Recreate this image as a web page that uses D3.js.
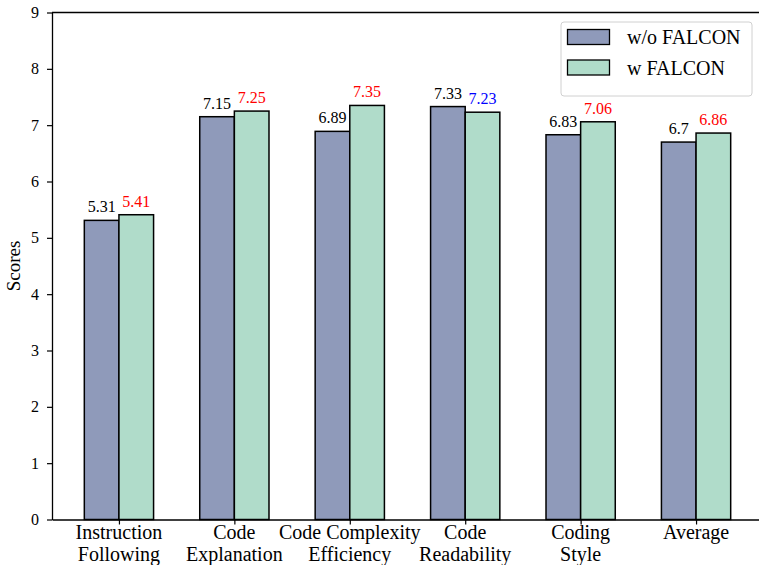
<!DOCTYPE html>
<html>
<head>
<meta charset="utf-8">
<script src="https://cdn.jsdelivr.net/npm/d3@7"></script>
<style>
  body { margin: 0; background: #fff; }
  svg { display: block; }
  svg text { font-family: "Liberation Serif", "Times New Roman", serif !important; }
</style>
</head>
<body>
<svg id="chart"></svg>
<script>
// data
const categories = ['Instruction\nFollowing', 'Code\nExplanation', 'Code Complexity\nEfficiency', 'Code\nReadability', 'Coding\nStyle', 'Average'];
const withoutFalcon = [5.31, 7.15, 6.89, 7.33, 6.83, 6.7];
const withFalcon = [5.41, 7.25, 7.35, 7.23, 7.06, 6.86];
const yTicks = [0, 1, 2, 3, 4, 5, 6, 7, 8, 9];
const seriesNames = ['w/o FALCON', 'w FALCON'];

const W = 759, H = 565;
const colors = ['#8f9aba', '#b0dcca'];
const barW = 0.3;

const svg = d3.select('#chart').attr('width', W).attr('height', H);

// x axis runs a bit past the right edge, like the original figure
const x = d3.scaleLinear().domain([-0.58, categories.length - 1 + 0.58]).range([52, 763]);
const y = d3.scaleLinear().domain([0, 9]).range([519.5, 12.5]);

// bars
const series = [withoutFalcon, withFalcon];
series.forEach((vals, s) => {
    svg.append('g').selectAll('rect')
        .data(vals)
        .join('rect')
        .attr('x', (d, i) => x(i + (s === 0 ? -barW : 0)))
        .attr('y', d => y(d))
        .attr('width', x(barW) - x(0))
        .attr('height', d => y(0) - y(d))
        .attr('fill', colors[s])
        .attr('stroke', '#000')
        .attr('stroke-width', 1.5);
});

// value labels
svg.append('g').selectAll('text')
    .data(withoutFalcon)
    .join('text')
    .attr('x', (d, i) => x(i - barW / 2))
    .attr('y', d => y(d) - 8)
    .attr('text-anchor', 'middle')
    .attr('font-size', 16)
    .attr('fill', '#000')
    .text(d => d);

svg.append('g').selectAll('text')
    .data(withFalcon)
    .join('text')
    .attr('x', (d, i) => x(i + barW / 2))
    .attr('y', d => y(d) - 8)
    .attr('text-anchor', 'middle')
    .attr('font-size', 16)
    .attr('fill', (d, i) => d >= withoutFalcon[i] ? '#ff0000' : '#0000ff')
    .text(d => d);

// axes
const xAxisG = svg.append('g')
    .attr('transform', `translate(0,${y(0)})`)
    .call(d3.axisBottom(x).tickValues(d3.range(categories.length)).tickFormat('').tickSize(5).tickSizeOuter(0));
xAxisG.select('.domain').attr('stroke', '#000').attr('stroke-width', 1.3);
xAxisG.selectAll('.tick line').attr('stroke', '#000').attr('stroke-width', 1.2);

const xLabels = svg.append('g').selectAll('text')
    .data(categories)
    .join('text')
    .attr('text-anchor', 'middle')
    .attr('font-size', 20)
    .attr('fill', '#000');
xLabels.each(function (d, i) {
    d.split('\n').forEach((line, k) => {
        d3.select(this).append('tspan')
            .attr('x', x(i))
            .attr('y', 539 + k * 22)
            .text(line);
    });
});

const yAxisG = svg.append('g')
    .attr('transform', `translate(${x.range()[0]},0)`)
    .call(d3.axisLeft(y).tickValues(yTicks).tickSize(5).tickSizeOuter(0).tickPadding(8));
yAxisG.select('.domain').attr('stroke', '#000').attr('stroke-width', 1.3);
yAxisG.selectAll('.tick line').attr('stroke', '#000').attr('stroke-width', 1.2);
yAxisG.selectAll('.tick text')
    .attr('font-size', 16)
    .attr('fill', '#000');

// top spine
svg.append('line')
    .attr('x1', x.range()[0]).attr('x2', x.range()[1])
    .attr('y1', y(9)).attr('y2', y(9))
    .attr('stroke', '#000').attr('stroke-width', 1.3);

// y label
svg.append('text')
    .attr('transform', `translate(20,${(y(0) + y(9)) / 2}) rotate(-90)`)
    .attr('text-anchor', 'middle')
    .attr('font-size', 19)
    .attr('fill', '#000')
    .text('Scores');

// legend
const legend = svg.append('g');
legend.append('rect')
    .attr('x', 561).attr('y', 22)
    .attr('width', 191).attr('height', 74)
    .attr('rx', 3)
    .attr('fill', '#fff')
    .attr('stroke', '#d0d0d0')
    .attr('stroke-width', 1);
seriesNames.forEach((name, s) => {
    legend.append('rect')
        .attr('x', 567.5).attr('y', 29.5 + s * 30.5)
        .attr('width', 42).attr('height', 15)
        .attr('fill', colors[s])
        .attr('stroke', '#000')
        .attr('stroke-width', 1.3);
    legend.append('text')
        .attr('x', 627).attr('y', 44 + s * 30.5)
        .attr('font-size', 20)
        .attr('fill', '#000')
        .text(name);
});
</script>
</body>
</html>
